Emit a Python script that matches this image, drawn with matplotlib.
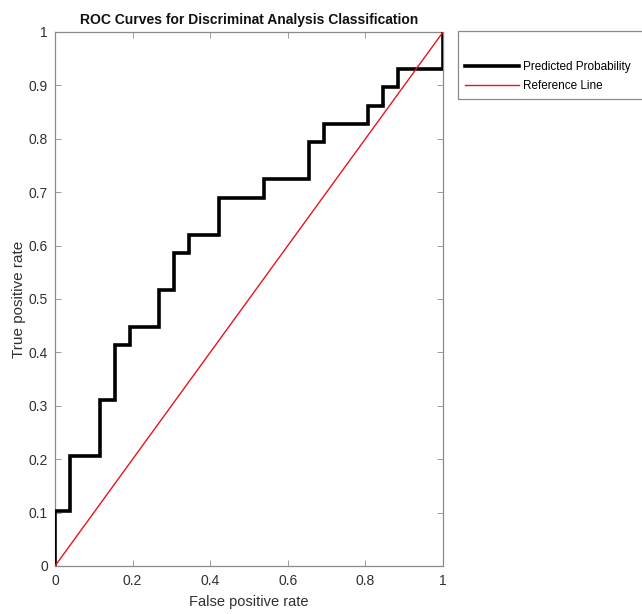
import matplotlib
matplotlib.use("Agg")
import matplotlib.pyplot as plt

# ROC step curve corner points (false positive rate, true positive rate)
fpr = [0.0, 0.0, 0.0385, 0.0385, 0.1154, 0.1154, 0.1538, 0.1538, 0.1923, 0.1923,
       0.2692, 0.2692, 0.3077, 0.3077, 0.3462, 0.3462, 0.4231, 0.4231, 0.5385, 0.5385,
       0.6538, 0.6538, 0.6923, 0.6923, 0.8077, 0.8077, 0.8462, 0.8462, 0.8846, 0.8846,
       1.0, 1.0]
tpr = [0.0, 0.1034, 0.1034, 0.2069, 0.2069, 0.3103, 0.3103, 0.4138, 0.4138, 0.4483,
       0.4483, 0.5172, 0.5172, 0.5862, 0.5862, 0.6207, 0.6207, 0.6897, 0.6897, 0.7241,
       0.7241, 0.7931, 0.7931, 0.8276, 0.8276, 0.8621, 0.8621, 0.8966, 0.8966, 0.9310,
       0.9310, 1.0]

ref_x = [0.0, 1.0]
ref_y = [0.0, 1.0]

xticks = [0, 0.2, 0.4, 0.6, 0.8, 1]
xtick_labels = ["0", "0.2", "0.4", "0.6", "0.8", "1"]
yticks = [0, 0.1, 0.2, 0.3, 0.4, 0.5, 0.6, 0.7, 0.8, 0.9, 1]
ytick_labels = ["0", "0.1", "0.2", "0.3", "0.4", "0.5", "0.6", "0.7", "0.8", "0.9", "1"]

plt.rcParams["font.family"] = ["Liberation Sans", "DejaVu Sans"]

fig = plt.figure(figsize=(6.42, 6.14), dpi=100)
ax = fig.add_axes([0.0857, 0.0782, 0.6044, 0.8697])

ax.plot(fpr, tpr, color="black", linewidth=2.6, solid_joinstyle="miter",
        label="Predicted Probability", zorder=3)
ax.plot(ref_x, ref_y, color="#e8141c", linewidth=1.0, label="Reference Line", zorder=4)

ax.set_xlim(0, 1)
ax.set_ylim(0, 1)
ax.set_xticks(xticks)
ax.set_xticklabels(xtick_labels)
ax.set_yticks(yticks)
ax.set_yticklabels(ytick_labels)
ax.tick_params(direction="in", top=True, right=True, length=4, width=0.6,
               color="#8a8a8a", labelsize=10, labelcolor="#303030")
ax.tick_params(axis="x", pad=6)
ax.tick_params(axis="y", pad=5)
for s in ax.spines.values():
    s.set_color("#8a8a8a")
    s.set_linewidth(0.9)

ax.set_xlabel("False positive rate", fontsize=10.5, color="#303030", labelpad=5)
ax.set_ylabel("True positive rate", fontsize=11, color="#303030", labelpad=2)
ax.set_title("ROC Curves for Discriminat Analysis Classification",
             fontsize=10, fontweight="bold", color="#111111", pad=6)

leg = fig.legend(loc="upper left", bbox_to_anchor=(0.714, 0.0, 0.31, 0.95),
                 mode="expand", title=" ", title_fontsize=14, fontsize=8.5,
                 handlelength=4.6, handletextpad=0.3, borderpad=0.55,
                 labelspacing=0.6, fancybox=False, framealpha=1,
                 edgecolor="#8a8a8a", borderaxespad=0)
leg.get_frame().set_linewidth(0.9)
leg._legend_box.align = "left"

fig.savefig("out.png", dpi=100, facecolor="white")
